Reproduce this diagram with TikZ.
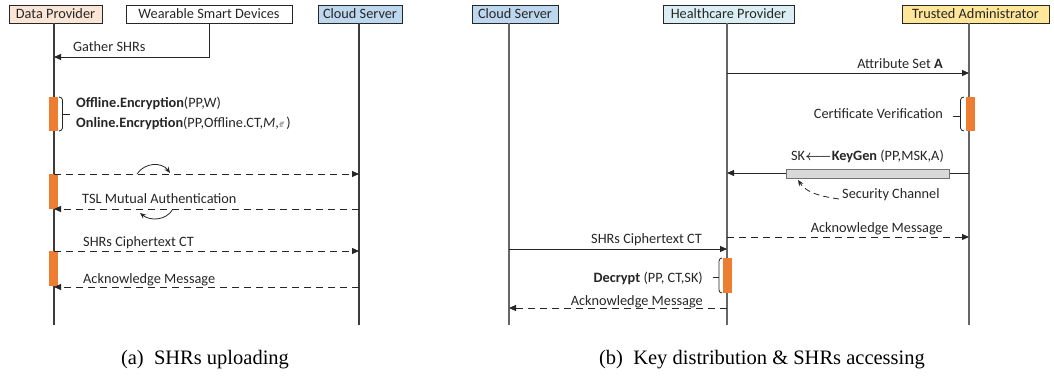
\documentclass[tikz,border=0pt]{standalone}
\usepackage{amsmath}
\usepackage{fontspec}
\setmainfont{Carlito}
\newfontfamily\capfont{Liberation Serif}
\usetikzlibrary{arrows.meta}

\definecolor{dpfill}{HTML}{FBE5D6}
\definecolor{csfill}{HTML}{BDD7EE}
\definecolor{hpfill}{HTML}{DAEEF3}
\definecolor{tafill}{HTML}{FFE699}
\definecolor{actorange}{HTML}{ED7D31}
\definecolor{chanfill}{HTML}{D9D9D9}
\definecolor{ink}{HTML}{262626}

\tikzset{
  actor/.style={draw=ink, line width=0.8pt, minimum height=18pt, inner sep=0pt, text=ink},
  lifeA/.style={draw=ink!90, line width=1.2pt},
  lifeB/.style={draw=black!60, line width=1.4pt},
  msg/.style={draw=ink, line width=0.9pt, -{Triangle[length=7pt,width=6pt]}},
  reply/.style={msg, dash pattern=on 7pt off 5pt},
  swirl/.style={draw=ink, line width=0.8pt, -{Stealth[length=6pt,width=5pt]}},
  actbar/.style={fill=actorange, draw=none, minimum width=9pt, inner sep=0pt},
  brace/.style={draw=ink, line width=0.8pt},
  lbl/.style={inner sep=0pt, text=ink},
  chan/.style={fill=chanfill, draw=black!55, line width=0.8pt, inner sep=0pt,
               minimum width=163pt, minimum height=9pt},
  caption/.style={inner sep=0pt, font=\capfont\fontsize{20.5}{24}\selectfont}
}

\begin{document}
\begin{tikzpicture}[x=1pt, y=-1pt, font=\fontsize{14.3}{17}\selectfont]
\useasboundingbox (0,0) rectangle (1054,385);

% ---------------- (a) SHRs uploading ----------------
\node[actor, fill=dpfill, minimum width=93pt] (dp) at (55.5,14) {Data Provider};
\node[actor, fill=white, minimum width=166pt] (ws) at (209,14) {Wearable Smart Devices};
\node[actor, fill=csfill, minimum width=84pt] (csa) at (360,14) {Cloud Server};

\coordinate (dpT) at (54,23);  \coordinate (dpB) at (54,325);
\coordinate (csaT) at (359,23); \coordinate (csaB) at (359,325);
\draw[lifeA] (dpT) -- (dpB);
\draw[lifeA] (csaT) -- (csaB);

% gather health records
\coordinate (g1) at (54,57);
\draw[msg] (ws.south) |- (g1);
\node[lbl, anchor=base west] (lg) at (73,52) {Gather SHRs};

% encryption
\node[actbar, minimum height=34pt] (b1) at (53.5,114) {};
\draw[brace] (59,97) to[out=0,in=90] (62.5,100) -- (62.5,128) to[out=-90,in=0] (59,131);
\draw[brace] (62.5,114) -- (70,114);
\node[lbl, anchor=base west] (off) at (76,108) {\textbf{Offline.Encryption}(PP,W)};
\node[lbl, anchor=base west] (on) at (76,128)
  {\textbf{Online.Encryption}(PP,Offline.CT,\textit{M},{\footnotesize$\vec{\pi}$}\,)};

% mutual authentication
\coordinate (a1) at (54,174);  \coordinate (a2) at (359,174);
\coordinate (a3) at (359,209); \coordinate (a4) at (54,209);
\node[actbar, minimum height=35pt] (b2) at (53.5,191.5) {};
\draw[reply] (a1) -- (a2);
\draw[reply] (a3) -- (a4);
\node[lbl, anchor=base west] (lt) at (82,203) {TSL Mutual Authentication};
\coordinate (s1) at (137,174); \coordinate (s2) at (170,173);
\coordinate (s3) at (173,209); \coordinate (s4) at (140,213);
\draw[swirl] (s1) .. controls (145,162) and (162,162) .. (s2);
\draw[swirl] (s3) .. controls (166,221) and (150,221) .. (s4);

% ciphertext upload
\coordinate (c1) at (54,251);  \coordinate (c2) at (359,251);
\coordinate (c3) at (359,287); \coordinate (c4) at (54,287);
\node[actbar, minimum height=35pt] (b3) at (53.5,268.5) {};
\draw[reply] (c1) -- (c2);
\draw[reply] (c3) -- (c4);
\node[lbl, anchor=base west] (lc) at (83,246) {SHRs Ciphertext CT};
\node[lbl, anchor=base west] (la) at (83,283) {Acknowledge Message};

\node[caption] (capa) at (205,360) {(a)\ \ SHRs uploading};

% ---------------- (b) Key distribution & SHRs accessing ----------------
\node[actor, fill=csfill, minimum width=86pt] (csb) at (515,14) {Cloud Server};
\node[actor, fill=hpfill, minimum width=131pt] (hp) at (728.5,14) {Healthcare Provider};
\node[actor, fill=tafill, minimum width=147pt] (ta) at (975.5,14) {Trusted Administrator};

\coordinate (csbT) at (509,23); \coordinate (csbB) at (509,325);
\coordinate (hpT) at (727,23);  \coordinate (hpB) at (727,325);
\coordinate (taT) at (969,23);  \coordinate (taB) at (969,325);
\draw[lifeB] (csbT) -- (csbB);
\draw[lifeB] (hpT) -- (hpB);
\draw[lifeB] (taT) -- (taB);

% attribute set
\coordinate (k1) at (727,73); \coordinate (k2) at (969,73);
\draw[msg] (k1) -- (k2);
\node[lbl, anchor=base east] (lat) at (943,69) {Attribute Set \textbf{A}};

% certificate verification
\node[actbar, minimum height=34pt] (b4) at (970,114) {};
\draw[brace] (964,97) to[out=180,in=90] (960.5,100) -- (960.5,128) to[out=-90,in=180] (964,131);
\draw[brace] (960.5,116) -- (953,116);
\node[lbl, anchor=base east] (lcv) at (943,119) {Certificate Verification};

% key generation over the security channel
\coordinate (k3) at (969,173); \coordinate (k4) at (727,173);
\draw[msg] (k3) -- (k4);
\node[chan] (kr) at (867.5,173.5) {};
\node[lbl, anchor=base east] (lkg) at (944,160)
  {SK$\boldsymbol{\longleftarrow}$\textbf{KeyGen} (PP,MSK,A)};
\node[lbl, anchor=base west] (lsc) at (842,198) {Security Channel};
\coordinate (sct) at (798,180);
\draw[draw=ink, line width=0.8pt, dash pattern=on 6pt off 4pt,
      -{Stealth[length=6pt,width=5pt]}]
  ([xshift=-3pt,yshift=-1pt]lsc.base west) .. controls (818,196) and (806,192) .. (sct);

% acknowledgement to administrator
\coordinate (k5) at (727,237); \coordinate (k6) at (969,237);
\draw[reply] (k5) -- (k6);
\node[lbl, anchor=base east] (lak) at (943,232) {Acknowledge Message};

% ciphertext retrieval and decryption
\coordinate (d1) at (509,249); \coordinate (d2) at (727,249);
\draw[msg] (d1) -- (d2);
\node[lbl, anchor=base east] (lcb) at (702,243) {SHRs Ciphertext CT};
\node[actbar, minimum height=35pt] (b5) at (727.5,275.5) {};
\draw[brace] (722,258) to[out=180,in=90] (719,261) -- (719,290) to[out=-90,in=180] (722,293);
\draw[brace] (719,277) -- (713,277);
\node[lbl, anchor=base east] (ldc) at (703,282) {\textbf{Decrypt} (PP, CT,SK)};
\coordinate (d3) at (727,308); \coordinate (d4) at (509,308);
\draw[reply] (d3) -- (d4);
\node[lbl, anchor=base east] (lab) at (703,305) {Acknowledge Message};

\node[caption] (capb) at (762,360) {(b)\ \ Key distribution \& SHRs accessing};
\end{tikzpicture}
\end{document}
